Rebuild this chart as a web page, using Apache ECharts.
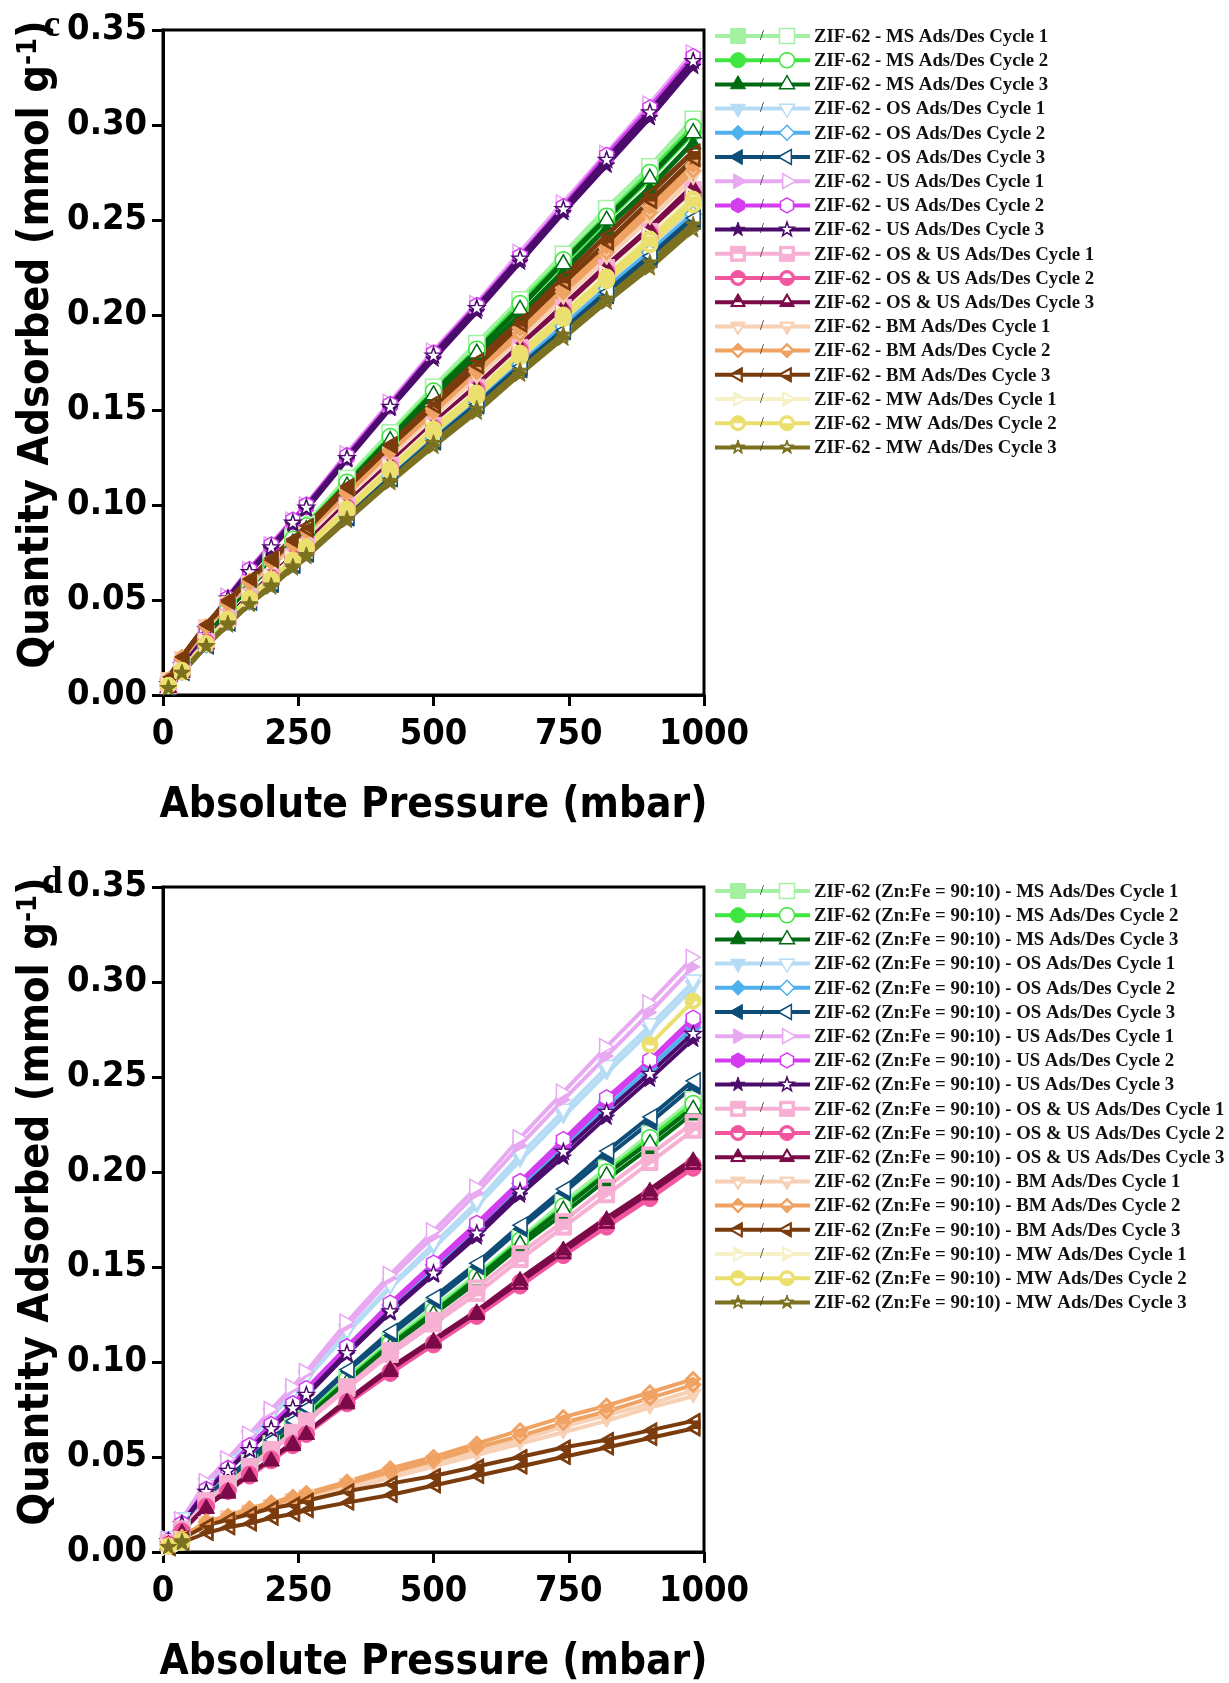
<!DOCTYPE html>
<html>
<head>
<meta charset="utf-8">
<script src="https://cdn.jsdelivr.net/npm/echarts/dist/echarts.min.js"></script>
<style>
html,body{margin:0;padding:0;background:#fff;}
#chart{width:1229px;height:1683px;}
</style>
</head>
<body>
<div id="chart"></div>
<script>
// Pressure points (mbar) shared by every isotherm branch
const PRESSURE = [10,35,80,120,160,200,240,265,340,420,500,580,660,740,820,900,980];

// Tick values
const X_TICKS = [0,250,500,750,1000];
const Y_TICKS = [0,0.05,0.10,0.15,0.20,0.25,0.30,0.35];

// Legend wording
const TREATMENTS = ['MS','OS','US','OS & US','BM','MW'];
const CYCLES = [1,2,3];
const SAMPLE_C = 'ZIF-62';
const SAMPLE_D = 'ZIF-62 (Zn:Fe = 90:10)';

// ---- Panel c : ZIF-62, quantity adsorbed (mmol/g) ----
const C_MS1_ADS = [0.005,0.014,0.032,0.046,0.059,0.070,0.082,0.089,0.113,0.137,0.161,0.183,0.206,0.230,0.253,0.276,0.300];
const C_MS1_DES = [0.005,0.015,0.032,0.046,0.059,0.071,0.083,0.090,0.114,0.138,0.162,0.185,0.208,0.232,0.256,0.278,0.303];
const C_MS2_ADS = [0.005,0.014,0.031,0.045,0.058,0.069,0.081,0.088,0.111,0.135,0.158,0.181,0.204,0.227,0.250,0.272,0.296];
const C_MS2_DES = [0.005,0.014,0.031,0.046,0.058,0.070,0.082,0.089,0.112,0.136,0.160,0.182,0.206,0.229,0.252,0.275,0.299];
const C_MS3_ADS = [0.005,0.014,0.031,0.045,0.057,0.068,0.079,0.086,0.109,0.133,0.156,0.178,0.200,0.223,0.246,0.267,0.291];
const C_MS3_DES = [0.005,0.014,0.031,0.045,0.058,0.069,0.081,0.088,0.111,0.135,0.159,0.181,0.204,0.228,0.251,0.273,0.297];
const C_OS1_ADS = [0.005,0.012,0.027,0.039,0.050,0.059,0.069,0.075,0.095,0.116,0.136,0.155,0.175,0.195,0.214,0.233,0.254];
const C_OS1_DES = [0.005,0.012,0.027,0.039,0.050,0.060,0.070,0.076,0.096,0.117,0.137,0.156,0.176,0.196,0.216,0.235,0.256];
const C_OS2_ADS = [0.005,0.012,0.026,0.038,0.049,0.059,0.069,0.075,0.094,0.114,0.134,0.153,0.173,0.192,0.212,0.231,0.251];
const C_OS2_DES = [0.005,0.012,0.027,0.039,0.049,0.059,0.069,0.075,0.095,0.115,0.135,0.154,0.174,0.194,0.214,0.233,0.253];
const C_OS3_ADS = [0.004,0.012,0.026,0.038,0.049,0.058,0.068,0.074,0.093,0.114,0.133,0.152,0.171,0.191,0.210,0.229,0.249];
const C_OS3_DES = [0.005,0.012,0.026,0.038,0.049,0.059,0.069,0.075,0.094,0.114,0.134,0.153,0.173,0.192,0.212,0.231,0.251];
const C_US1_ADS = [0.006,0.016,0.035,0.051,0.066,0.079,0.092,0.100,0.126,0.153,0.180,0.205,0.231,0.257,0.284,0.309,0.336];
const C_US1_DES = [0.006,0.016,0.035,0.052,0.066,0.079,0.092,0.100,0.127,0.154,0.181,0.206,0.233,0.259,0.285,0.311,0.338];
const C_US2_ADS = [0.006,0.016,0.035,0.051,0.065,0.078,0.091,0.099,0.125,0.152,0.179,0.204,0.230,0.256,0.282,0.307,0.334];
const C_US2_DES = [0.006,0.016,0.035,0.051,0.066,0.079,0.092,0.100,0.126,0.153,0.180,0.205,0.231,0.257,0.284,0.309,0.336];
const C_US3_ADS = [0.006,0.016,0.035,0.051,0.065,0.077,0.090,0.098,0.124,0.151,0.177,0.202,0.228,0.254,0.279,0.304,0.331];
const C_US3_DES = [0.006,0.016,0.035,0.051,0.065,0.078,0.091,0.099,0.125,0.152,0.179,0.204,0.230,0.256,0.282,0.307,0.334];
const C_OSUS1_ADS = [0.005,0.013,0.028,0.040,0.051,0.062,0.072,0.078,0.099,0.120,0.141,0.161,0.182,0.202,0.223,0.243,0.264];
const C_OSUS1_DES = [0.005,0.013,0.028,0.041,0.052,0.062,0.073,0.079,0.100,0.121,0.142,0.162,0.183,0.204,0.225,0.244,0.266];
const C_OSUS2_ADS = [0.005,0.013,0.028,0.040,0.051,0.061,0.072,0.078,0.098,0.119,0.140,0.160,0.180,0.201,0.221,0.241,0.262];
const C_OSUS2_DES = [0.005,0.013,0.028,0.040,0.051,0.062,0.072,0.078,0.099,0.120,0.141,0.161,0.182,0.202,0.223,0.243,0.264];
const C_OSUS3_ADS = [0.005,0.013,0.028,0.041,0.052,0.062,0.073,0.079,0.100,0.121,0.142,0.162,0.183,0.204,0.225,0.244,0.266];
const C_OSUS3_DES = [0.005,0.013,0.028,0.041,0.052,0.063,0.073,0.080,0.101,0.122,0.143,0.163,0.184,0.205,0.226,0.246,0.268];
const C_BM1_ADS = [0.008,0.019,0.035,0.048,0.058,0.069,0.078,0.084,0.105,0.126,0.147,0.167,0.188,0.209,0.230,0.251,0.272];
const C_BM1_DES = [0.008,0.019,0.036,0.048,0.059,0.069,0.079,0.085,0.106,0.127,0.149,0.169,0.190,0.211,0.232,0.254,0.275];
const C_BM2_ADS = [0.008,0.019,0.036,0.048,0.059,0.070,0.079,0.086,0.106,0.128,0.149,0.170,0.190,0.212,0.233,0.254,0.276];
const C_BM2_DES = [0.008,0.020,0.036,0.049,0.060,0.070,0.080,0.086,0.107,0.129,0.151,0.172,0.193,0.214,0.236,0.257,0.279];
const C_BM3_ADS = [0.008,0.020,0.037,0.049,0.061,0.071,0.081,0.087,0.109,0.131,0.152,0.173,0.195,0.217,0.238,0.260,0.282];
const C_BM3_DES = [0.009,0.020,0.037,0.050,0.061,0.072,0.082,0.089,0.110,0.132,0.154,0.176,0.197,0.220,0.242,0.264,0.286];
const C_MW1_ADS = [0.005,0.013,0.027,0.040,0.051,0.061,0.071,0.078,0.098,0.119,0.140,0.159,0.180,0.200,0.220,0.240,0.261];
const C_MW1_DES = [0.005,0.013,0.028,0.040,0.051,0.062,0.072,0.078,0.099,0.120,0.141,0.160,0.181,0.201,0.222,0.242,0.263];
const C_MW2_ADS = [0.005,0.012,0.027,0.039,0.050,0.060,0.070,0.077,0.097,0.118,0.138,0.157,0.178,0.198,0.218,0.237,0.258];
const C_MW2_DES = [0.005,0.013,0.027,0.040,0.051,0.061,0.071,0.078,0.098,0.119,0.140,0.159,0.180,0.200,0.220,0.240,0.261];
const C_MW3_ADS = [0.004,0.012,0.026,0.037,0.048,0.057,0.067,0.073,0.092,0.112,0.131,0.149,0.169,0.188,0.207,0.225,0.245];
const C_MW3_DES = [0.004,0.012,0.026,0.038,0.048,0.058,0.068,0.074,0.093,0.113,0.133,0.151,0.171,0.190,0.209,0.228,0.248];

// ---- Panel d : ZIF-62 (Zn:Fe = 90:10), quantity adsorbed (mmol/g) ----
const D_MS1_ADS = [0.005,0.013,0.028,0.037,0.047,0.056,0.066,0.072,0.091,0.110,0.127,0.145,0.164,0.182,0.200,0.218,0.236];
const D_MS1_DES = [0.005,0.013,0.028,0.038,0.047,0.057,0.066,0.073,0.092,0.111,0.129,0.146,0.165,0.184,0.202,0.220,0.238];
const D_MS2_ADS = [0.005,0.013,0.028,0.037,0.047,0.056,0.065,0.071,0.090,0.109,0.126,0.144,0.163,0.181,0.199,0.216,0.234];
const D_MS2_DES = [0.005,0.013,0.028,0.037,0.047,0.056,0.066,0.072,0.091,0.110,0.127,0.145,0.164,0.182,0.200,0.218,0.236];
const D_MS3_ADS = [0.005,0.013,0.027,0.036,0.046,0.055,0.064,0.070,0.089,0.108,0.125,0.142,0.161,0.178,0.196,0.213,0.231];
const D_MS3_DES = [0.005,0.013,0.028,0.037,0.047,0.056,0.065,0.071,0.090,0.109,0.126,0.144,0.163,0.181,0.199,0.216,0.234];
const D_OS1_ADS = [0.007,0.016,0.035,0.047,0.059,0.071,0.083,0.091,0.115,0.139,0.160,0.182,0.206,0.229,0.252,0.274,0.297];
const D_OS1_DES = [0.007,0.017,0.035,0.047,0.060,0.072,0.084,0.092,0.116,0.140,0.162,0.184,0.209,0.232,0.255,0.277,0.300];
const D_OS2_ADS = [0.006,0.015,0.033,0.044,0.055,0.066,0.077,0.084,0.107,0.129,0.149,0.169,0.192,0.213,0.234,0.255,0.276];
const D_OS2_DES = [0.006,0.015,0.033,0.044,0.056,0.067,0.078,0.085,0.108,0.130,0.151,0.171,0.194,0.215,0.237,0.258,0.279];
const D_OS3_ADS = [0.005,0.013,0.029,0.039,0.049,0.059,0.068,0.075,0.095,0.114,0.132,0.150,0.170,0.189,0.208,0.226,0.245];
const D_OS3_DES = [0.005,0.014,0.029,0.039,0.049,0.059,0.069,0.076,0.096,0.116,0.134,0.152,0.172,0.191,0.211,0.229,0.248];
const D_US1_ADS = [0.007,0.017,0.036,0.049,0.061,0.074,0.086,0.094,0.119,0.144,0.166,0.189,0.214,0.238,0.261,0.284,0.308];
const D_US1_DES = [0.007,0.017,0.037,0.049,0.062,0.075,0.087,0.095,0.121,0.146,0.169,0.192,0.218,0.242,0.266,0.289,0.313];
const D_US2_ADS = [0.006,0.015,0.033,0.044,0.056,0.067,0.078,0.085,0.108,0.130,0.151,0.171,0.194,0.215,0.237,0.258,0.279];
const D_US2_DES = [0.006,0.015,0.033,0.044,0.056,0.067,0.078,0.086,0.108,0.131,0.152,0.173,0.195,0.217,0.239,0.259,0.281];
const D_US3_ADS = [0.006,0.015,0.032,0.043,0.054,0.065,0.075,0.082,0.104,0.126,0.146,0.166,0.188,0.208,0.229,0.249,0.270];
const D_US3_DES = [0.006,0.015,0.032,0.043,0.054,0.065,0.076,0.083,0.105,0.127,0.147,0.168,0.190,0.211,0.232,0.252,0.273];
const D_OSUS1_ADS = [0.005,0.012,0.026,0.035,0.044,0.053,0.062,0.068,0.086,0.104,0.120,0.136,0.154,0.171,0.188,0.205,0.222];
const D_OSUS1_DES = [0.005,0.012,0.027,0.036,0.045,0.054,0.063,0.069,0.087,0.106,0.122,0.139,0.157,0.174,0.192,0.209,0.226];
const D_OSUS2_ADS = [0.004,0.011,0.024,0.032,0.040,0.048,0.056,0.062,0.078,0.094,0.109,0.124,0.140,0.156,0.171,0.186,0.202];
const D_OSUS2_DES = [0.004,0.011,0.024,0.032,0.041,0.049,0.057,0.062,0.079,0.095,0.110,0.125,0.142,0.157,0.173,0.188,0.204];
const D_OSUS3_ADS = [0.005,0.011,0.024,0.032,0.041,0.049,0.057,0.063,0.079,0.096,0.111,0.126,0.142,0.158,0.174,0.189,0.205];
const D_OSUS3_DES = [0.005,0.011,0.024,0.033,0.041,0.049,0.058,0.063,0.080,0.097,0.112,0.127,0.144,0.160,0.176,0.191,0.207];
const D_BM1_ADS = [0.003,0.007,0.014,0.017,0.020,0.023,0.026,0.028,0.033,0.039,0.045,0.051,0.057,0.063,0.069,0.076,0.082];
const D_BM1_DES = [0.003,0.007,0.015,0.018,0.021,0.024,0.027,0.029,0.035,0.041,0.047,0.053,0.059,0.066,0.072,0.078,0.085];
const D_BM2_ADS = [0.003,0.007,0.015,0.018,0.022,0.025,0.028,0.030,0.036,0.042,0.048,0.055,0.061,0.068,0.074,0.081,0.088];
const D_BM2_DES = [0.004,0.008,0.016,0.019,0.023,0.026,0.029,0.031,0.037,0.044,0.050,0.057,0.064,0.071,0.077,0.084,0.091];
const D_BM3_ADS = [0.002,0.005,0.010,0.013,0.015,0.018,0.020,0.022,0.026,0.030,0.035,0.040,0.045,0.050,0.055,0.060,0.065];
const D_BM3_DES = [0.003,0.007,0.014,0.017,0.020,0.023,0.025,0.027,0.032,0.036,0.040,0.045,0.050,0.055,0.059,0.064,0.069];
const D_MW1_ADS = [0.002,0.004,null,null,null,null,null,null,null,null,null,null,null,null,null,null,null];
const D_MW1_DES = [0.002,0.005,null,null,null,null,null,null,null,null,null,null,null,null,null,null,null];
const D_MW2_ADS = [0.003,0.005,null,null,null,null,null,null,null,null,null,null,null,null,null,0.267,0.290];
const D_MW2_DES = [0.003,0.006,null,null,null,null,null,null,null,null,null,null,null,null,null,null,null];
const D_MW3_ADS = [0.003,0.005,null,null,null,null,null,null,null,null,null,null,null,null,null,null,null];
const D_MW3_DES = [0.003,0.006,null,null,null,null,null,null,null,null,null,null,null,null,null,null,null];

// Series appearance, in legend order
const COLORS = ['#a3f2a3','#3fe63f','#006b12','#b6dcf5','#4fb0ee','#0e4d78',
                '#e8a8f2','#d43cf0','#4b0b6c','#f7b0d3','#f2569f','#7b0b48',
                '#f8d0b4','#f0a262','#7a3b0d','#f6f1c6','#ebdf6e','#7c7121'];
const SHAPES = ['square','circle','triangle','down','diamond','left','right','hexagon','star',
                'square','circle','triangle','down','diamond','left','right','circle','star'];

const C_ADS = [C_MS1_ADS,C_MS2_ADS,C_MS3_ADS,C_OS1_ADS,C_OS2_ADS,C_OS3_ADS,C_US1_ADS,C_US2_ADS,C_US3_ADS,
               C_OSUS1_ADS,C_OSUS2_ADS,C_OSUS3_ADS,C_BM1_ADS,C_BM2_ADS,C_BM3_ADS,C_MW1_ADS,C_MW2_ADS,C_MW3_ADS];
const C_DES = [C_MS1_DES,C_MS2_DES,C_MS3_DES,C_OS1_DES,C_OS2_DES,C_OS3_DES,C_US1_DES,C_US2_DES,C_US3_DES,
               C_OSUS1_DES,C_OSUS2_DES,C_OSUS3_DES,C_BM1_DES,C_BM2_DES,C_BM3_DES,C_MW1_DES,C_MW2_DES,C_MW3_DES];
const D_ADS = [D_MS1_ADS,D_MS2_ADS,D_MS3_ADS,D_OS1_ADS,D_OS2_ADS,D_OS3_ADS,D_US1_ADS,D_US2_ADS,D_US3_ADS,
               D_OSUS1_ADS,D_OSUS2_ADS,D_OSUS3_ADS,D_BM1_ADS,D_BM2_ADS,D_BM3_ADS,D_MW1_ADS,D_MW2_ADS,D_MW3_ADS];
const D_DES = [D_MS1_DES,D_MS2_DES,D_MS3_DES,D_OS1_DES,D_OS2_DES,D_OS3_DES,D_US1_DES,D_US2_DES,D_US3_DES,
               D_OSUS1_DES,D_OSUS2_DES,D_OSUS3_DES,D_BM1_DES,D_BM2_DES,D_BM3_DES,D_MW1_DES,D_MW2_DES,D_MW3_DES];

// ---------- marker geometry (unit box 0..100) ----------
function outline(name){
  const pts = [];
  if (name === 'square') return [[0,0],[100,0],[100,100],[0,100]];
  if (name === 'triangle') return [[50,0],[100,87],[0,87]];
  if (name === 'down') return [[0,13],[100,13],[50,100]];
  if (name === 'diamond') return [[50,0],[100,50],[50,100],[0,50]];
  if (name === 'left') return [[0,50],[87,0],[87,100]];
  if (name === 'right') return [[13,0],[100,50],[13,100]];
  if (name === 'circle') {
    for (let k = 0; k < 28; k++) { const a = k / 28 * Math.PI * 2; pts.push([50 + 50 * Math.cos(a), 50 + 50 * Math.sin(a)]); }
    return pts;
  }
  if (name === 'hexagon') {
    for (let k = 0; k < 6; k++) { const a = -Math.PI / 2 + k * Math.PI / 3; pts.push([50 + 50 * Math.cos(a), 50 + 50 * Math.sin(a)]); }
    return pts;
  }
  if (name === 'star') {
    for (let k = 0; k < 10; k++) { const a = -Math.PI / 2 + k * Math.PI / 5; const r = k % 2 ? 20 : 50; pts.push([50 + r * Math.cos(a), 52 + r * Math.sin(a)]); }
    return pts;
  }
  return pts;
}
function centroid(p){ let x = 0, y = 0; p.forEach(q => { x += q[0]; y += q[1]; }); return [x / p.length, y / p.length]; }
function shrink(p, f){ const c = centroid(p); return p.map(q => [c[0] + (q[0] - c[0]) * f, c[1] + (q[1] - c[1]) * f]); }
// keep the part of polygon p with y >= cut (side = 1) or y <= cut (side = -1)
function clipY(p, cut, side){
  const inside = q => side > 0 ? q[1] >= cut : q[1] <= cut;
  const out = [];
  for (let i = 0; i < p.length; i++) {
    const cur = p[i], prev = p[(i + p.length - 1) % p.length];
    const ci = inside(cur), pi = inside(prev);
    const cross = () => { const t = (cut - prev[1]) / (cur[1] - prev[1]); return [prev[0] + t * (cur[0] - prev[0]), cut]; };
    if (ci) { if (!pi) out.push(cross()); out.push(cur); }
    else if (pi) out.push(cross());
  }
  return out;
}
function area(p){ let s = 0; for (let i = 0; i < p.length; i++) { const a = p[i], b = p[(i + 1) % p.length]; s += a[0] * b[1] - b[0] * a[1]; } return s; }
function toPath(p){ return 'M' + p.map(q => q[0].toFixed(2) + ',' + q[1].toFixed(2)).join('L') + 'Z'; }
// white part of a half-filled marker: lower half (side 1) or upper half (side -1)
function halfHole(name, side){
  const o = outline(name);
  const inner = shrink(o, name === 'star' ? 0.5 : 0.62);
  return clipY(inner, centroid(o)[1], side);
}
function symbolPath(name, mode){
  let o = outline(name);
  if (area(o) < 0) o = o.slice().reverse();
  if (mode === 'full' || mode === 'hollow') return 'path://' + toPath(o);
  let h = halfHole(name, mode === 'halfBottom' ? 1 : -1);
  if (area(h) > 0) h = h.slice().reverse();
  return 'path://' + toPath(o) + toPath(h);
}

// ---------- layout ----------
const SANS = "'DejaVu Sans Condensed','Liberation Sans',sans-serif";
const SERIF = "'Liberation Serif','Times New Roman',serif";
const PANELS = [
  {grid: {left: 163, top: 30, width: 541, height: 665}, ads: C_ADS, des: C_DES, sample: SAMPLE_C, tag: 'c',
   legendTop: 36, lineW: 5},
  {grid: {left: 163, top: 887, width: 541, height: 665}, ads: D_ADS, des: D_DES, sample: SAMPLE_D, tag: 'd',
   legendTop: 891, lineW: 4}
];

const grids = [], xAxes = [], yAxes = [], series = [], graphics = [];
PANELS.forEach((pn, gi) => {
  grids.push(Object.assign({show: true, borderColor: '#000', borderWidth: 3, backgroundColor: 'transparent'}, pn.grid));
  xAxes.push({
    type: 'value', gridIndex: gi, min: X_TICKS[0], max: X_TICKS[X_TICKS.length - 1], interval: X_TICKS[1] - X_TICKS[0],
    axisLine: {show: true, onZero: false, lineStyle: {color: '#000', width: 3}},
    axisTick: {show: true, inside: false, length: 11, lineStyle: {color: '#000', width: 3}},
    axisLabel: {color: '#000', fontFamily: SANS, fontWeight: 'bold', fontSize: 36, margin: 22,
                formatter: v => String(v)},
    splitLine: {show: false}
  });
  yAxes.push({
    type: 'value', gridIndex: gi, min: Y_TICKS[0], max: Y_TICKS[Y_TICKS.length - 1], interval: 0.05,
    axisLine: {show: true, onZero: false, lineStyle: {color: '#000', width: 3}},
    axisTick: {show: true, inside: false, length: 11, lineStyle: {color: '#000', width: 3}},
    axisLabel: {color: '#000', fontFamily: SANS, fontWeight: 'bold', fontSize: 36, margin: 16,
                formatter: v => v.toFixed(2)},
    splitLine: {show: false}
  });

  COLORS.forEach((col, k) => {
    const half = k >= 9;
    const branches = [
      {vals: pn.ads[k], mode: half ? 'halfBottom' : 'full'},
      {vals: pn.des[k], mode: half ? 'halfTop' : 'hollow'}
    ];
    branches.forEach(b => {
      series.push({
        type: 'line', xAxisIndex: gi, yAxisIndex: gi, silent: true, animation: false,
        data: PRESSURE.map((p, i) => [p, b.vals[i] == null ? '-' : b.vals[i]]),
        symbol: symbolPath(SHAPES[k], b.mode), symbolSize: 16, symbolKeepAspect: true,
        showAllSymbol: true, connectNulls: false,
        lineStyle: {color: col, width: pn.lineW},
        itemStyle: b.mode === 'hollow'
          ? {color: '#fff', borderColor: col, borderWidth: 1.5}
          : {color: col, borderColor: col, borderWidth: 1},
        emphasis: {disabled: true}
      });
    });
  });

  // legend rows: filled marker / open marker, then the label
  const gx0 = 715, gx1 = 810, mA = 738, mD = 787, tx = 814, size = 15;
  const place = (pts, cx, cy) => pts.map(q => [cx + (q[0] - 50) * size / 100, cy + (q[1] - 50) * size / 100]);
  COLORS.forEach((col, k) => {
    const y = pn.legendTop + k * 24.2;
    const half = k >= 9;
    const name = pn.sample + ' - ' + TREATMENTS[Math.floor(k / 3)] + ' Ads/Des Cycle ' + CYCLES[k % 3];
    graphics.push({type: 'line', shape: {x1: gx0, y1: y, x2: gx1, y2: y}, style: {stroke: col, lineWidth: 4}, silent: true});
    const o = outline(SHAPES[k]);
    const oc = centroid(o);
    const shift = p => p.map(q => [q[0] + 50 - oc[0], q[1] + 50 - oc[1]]);
    // adsorption marker
    graphics.push({type: 'polygon', shape: {points: place(shift(o), mA, y)}, style: {fill: col, stroke: col, lineWidth: 1}, silent: true});
    if (half) graphics.push({type: 'polygon', shape: {points: place(shift(halfHole(SHAPES[k], 1)), mA, y)}, style: {fill: '#fff'}, silent: true});
    // desorption marker
    if (half) {
      graphics.push({type: 'polygon', shape: {points: place(shift(o), mD, y)}, style: {fill: col, stroke: col, lineWidth: 1}, silent: true});
      graphics.push({type: 'polygon', shape: {points: place(shift(halfHole(SHAPES[k], -1)), mD, y)}, style: {fill: '#fff'}, silent: true});
    } else {
      graphics.push({type: 'polygon', shape: {points: place(shift(o), mD, y)}, style: {fill: '#fff', stroke: col, lineWidth: 1.5}, silent: true});
    }
    graphics.push({type: 'text', x: 762, y: y, silent: true,
      style: {text: '/', font: '14px ' + SERIF, fill: '#222', align: 'center', verticalAlign: 'middle', textAlign: 'center', textVerticalAlign: 'middle'}});
    graphics.push({type: 'text', x: tx, y: y + 1, silent: true,
      style: {text: name, font: 'bold 18.8px ' + SERIF, fill: '#111', align: 'left', verticalAlign: 'middle', textAlign: 'left', textVerticalAlign: 'middle'}});
  });

  const g = pn.grid;
  // x axis title
  graphics.push({type: 'text', x: g.left + g.width / 2, y: g.top + g.height + 111, silent: true,
    style: {text: 'Absolute Pressure (mbar)', font: 'bold 42px ' + SANS, fill: '#000',
            align: 'center', verticalAlign: 'middle', textAlign: 'center', textVerticalAlign: 'middle'}});
  // y axis title with superscript
  graphics.push({type: 'text', x: 37, y: g.top + g.height / 2 - 18, rotation: Math.PI / 2, silent: true,
    style: {text: '{a|Quantity Adsorbed (mmol g}{s|-1}{a|)}', align: 'center', verticalAlign: 'middle',
            textAlign: 'center', textVerticalAlign: 'middle',
            rich: {a: {font: 'bold 43px ' + SANS, fill: '#000', verticalAlign: 'bottom'},
                   s: {font: 'bold 27px ' + SANS, fill: '#000', verticalAlign: 'top'}}}});
  // panel tag
  graphics.push({type: 'text', x: 52, y: g.top - 4, silent: true,
    style: {text: pn.tag, font: 'bold 38px ' + SERIF, fill: '#000', align: 'center', verticalAlign: 'middle',
            textAlign: 'center', textVerticalAlign: 'middle'}});
});

const chart = echarts.init(document.getElementById('chart'), null, {renderer: 'canvas'});
chart.setOption({
  backgroundColor: '#fff',
  animation: false,
  grid: grids,
  xAxis: xAxes,
  yAxis: yAxes,
  series: series,
  graphic: graphics
});
</script>
</body>
</html>
